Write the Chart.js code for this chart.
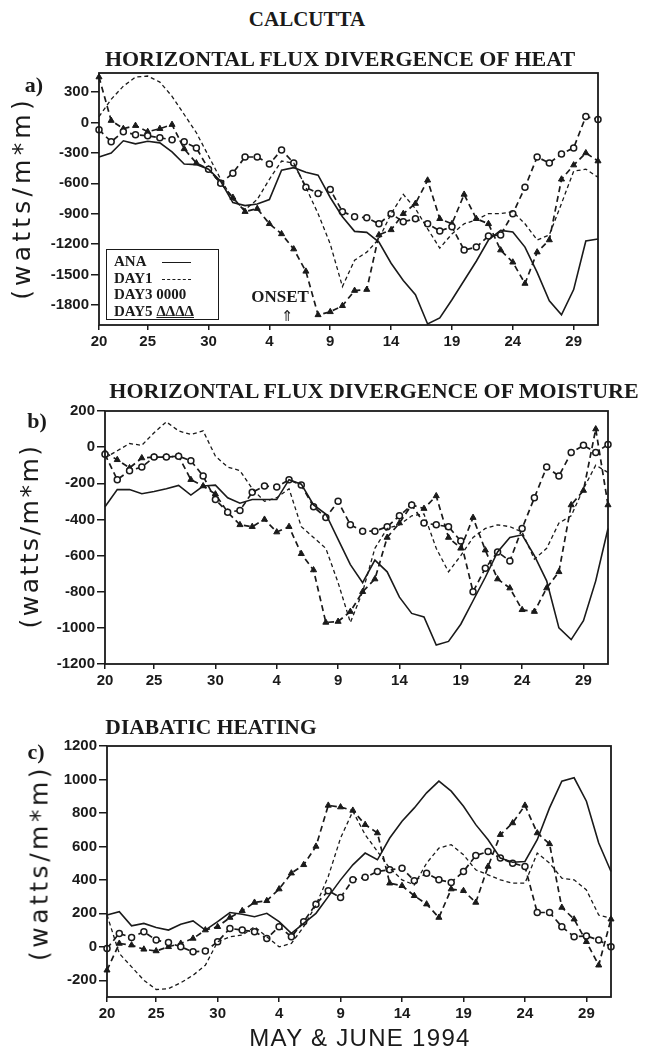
<!DOCTYPE html>
<html>
<head>
<meta charset="utf-8">
<script src="https://cdn.jsdelivr.net/npm/chart.js@4.4.1/dist/chart.umd.min.js"></script>
<style>
  html, body { margin: 0; padding: 0; background: #fff; }
  #page { position: relative; width: 650px; height: 1053px; overflow: hidden; color: #1a1a1a; }
  canvas { position: absolute; left: 0; }
  .t { position: absolute; white-space: nowrap; transform: translate(-50%, -50%); z-index: 2; }
  .serif { font-family: "Liberation Serif", "Times New Roman", serif; font-weight: bold; }
  .sans { font-family: "Liberation Sans", Arial, sans-serif; }
  .ytitle { font-family: "DejaVu Sans", sans-serif; font-size: 25px; }
  #legend { position: absolute; left: 106px; top: 249px; width: 113px; height: 71px; box-sizing: border-box;
            border: 1.5px solid #1a1a1a; z-index: 2; font-family: "Liberation Serif", serif; font-weight: bold; font-size: 15px; }
  #legend span { position: absolute; white-space: nowrap; line-height: 1; }
  .smp { height: 0; width: 29px; }
</style>
</head>
<body>
<div id="page">
  <div class="t serif" style="left:307px; top:19px; font-size:21px;">CALCUTTA</div>

  <!-- panel a -->
  <div class="t serif" style="left:340px; top:59px; font-size:22px;">HORIZONTAL FLUX DIVERGENCE OF HEAT</div>
  <div class="t serif" style="left:34px; top:85px; font-size:22px;">a)</div>
  <div class="t ytitle" style="left:21px; top:198px; letter-spacing:4.2px; transform:translate(-50%,-50%) rotate(-90deg);">(watts/m*m)</div>
  <canvas id="chartA" width="650" height="310" style="top:60px"></canvas>
  <div id="legend">
    <span style="left:7px; top:4px;">ANA</span>
    <span class="smp" style="left:55px; top:12px; border-top:1.5px solid #1a1a1a;"></span>
    <span style="left:7px; top:21px;">DAY1</span>
    <span class="smp" style="left:55px; top:29px; border-top:1.5px dashed #1a1a1a;"></span>
    <span style="left:7px; top:37px;">DAY3 0000</span>
    <span style="left:7px; top:54px;">DAY5 <u>ΔΔΔΔ</u></span>
  </div>
  <div class="t serif" style="left:280px; top:297px; font-size:17px;">ONSET</div>
  <div class="t sans" style="left:287px; top:316px; font-size:15px; font-family:'DejaVu Sans',sans-serif;">⇑</div>

  <!-- panel b -->
  <div class="t serif" style="left:374px; top:391px; font-size:22px;">HORIZONTAL FLUX DIVERGENCE OF MOISTURE</div>
  <div class="t serif" style="left:37px; top:421px; font-size:22px;">b)</div>
  <div class="t ytitle" style="left:29px; top:536px; letter-spacing:2.5px; transform:translate(-50%,-50%) rotate(-90deg);">(watts/m*m)</div>
  <canvas id="chartB" width="650" height="300" style="top:400px"></canvas>

  <!-- panel c -->
  <div class="t serif" style="left:211px; top:727px; font-size:21.5px;">DIABATIC HEATING</div>
  <div class="t serif" style="left:36px; top:752px; font-size:22px;">c)</div>
  <div class="t ytitle" style="left:39px; top:863px; letter-spacing:3.5px; transform:translate(-50%,-50%) rotate(-90deg);">(watts/m*m)</div>
  <canvas id="chartC" width="650" height="300" style="top:735px"></canvas>
  <div class="t sans" style="left:360px; top:1038px; font-size:24px; letter-spacing:1.3px;">MAY &amp; JUNE 1994</div>
</div>

<script>
// ===== Calcutta budget terms, May 21 - July 1 1994 =====

// day index along the x axis (1 = May 21)
const days = [1, 2, 3, 4, 5, 6, 7, 8, 9, 10, 11, 12, 13, 14, 15, 16, 17, 18, 19, 20, 21,
              22, 23, 24, 25, 26, 27, 28, 29, 30, 31, 32, 33, 34, 35, 36, 37, 38, 39, 40, 41, 42];

// x tick positions and their labels
const tickDays = [1, 5, 10, 15, 20, 25, 30, 35, 40];
const tickNames = ['20', '25', '30', '4', '9', '14', '19', '24', '29'];

// y ticks per panel
const heatTicks = [300, 0, -300, -600, -900, -1200, -1500, -1800];
const moistTicks = [200, 0, -200, -400, -600, -800, -1000, -1200];
const diabTicks = [1200, 1000, 800, 600, 400, 200, 0, -200];

// a) horizontal flux divergence of heat
const heatAna = [-340, -300, -180, -210, -185, -200, -290, -410, -415, -460, -580, -790, -820, -805, -760,
  -470, -445, -490, -520, -740, -930, -1075, -1085, -1180, -1390, -1560, -1700, -1990, -1930, -1750,
  -1560, -1370, -1160, -1065, -1080, -1230, -1480, -1760, -1900, -1650, -1170, -1150];
const heatDay1 = [60, 230, 360, 450, 460, 400, 260, 80, -100, -330, -560, -760, -860, -760, -560,
  -380, -400, -640, -900, -1200, -1620, -1360, -1280, -1150, -900, -710, -850, -1050, -1240, -1100,
  -1000, -960, -900, -900, -880, -1000, -1160, -1110, -800, -480, -460, -540];
const heatDay3 = [-70, -190, -90, -120, -130, -150, -170, -190, -250, -460, -600, -500, -340, -340, -410,
  -270, -400, -640, -700, -660, -880, -930, -940, -1000, -900, -980, -950, -1000, -1070, -1030,
  -1260, -1230, -1120, -1110, -900, -640, -340, -400, -310, -250, 60, 30];
const heatDay5 = [450, 20, -60, -30, -90, -60, -20, -260, -400, -460, -600, -740, -880, -850, -1000,
  -1100, -1250, -1470, -1900, -1870, -1810, -1660, -1650, -1110, -1060, -900, -800, -570, -950, -1000,
  -710, -950, -1000, -1260, -1380, -1590, -1280, -1160, -560, -420, -300, -380];

// b) horizontal flux divergence of moisture
const moistAna = [-330, -235, -235, -258, -245, -230, -212, -265, -215, -210, -280, -310, -290, -290, -290,
  -180, -205, -320, -370, -510, -650, -750, -625, -690, -830, -920, -940, -1095, -1075, -980,
  -850, -720, -580, -500, -485, -600, -740, -1000, -1065, -960, -740, -450];
const moistDay1 = [-60, -20, 20, 10, 80, 140, 90, 70, 90, -50, -110, -130, -230, -300, -280,
  -230, -440, -500, -560, -750, -970, -800, -560, -450, -430, -380, -370, -560, -690, -600,
  -500, -450, -430, -440, -470, -620, -560, -420, -380, -230, -100, -140];
const moistDay3 = [-40, -180, -130, -110, -55, -55, -50, -75, -160, -290, -360, -350, -250, -215, -220,
  -180, -210, -330, -390, -300, -430, -465, -465, -440, -380, -320, -420, -430, -440, -520,
  -800, -670, -580, -630, -450, -280, -110, -160, -30, 10, -30, 15];
const moistDay5 = [-30, -70, -115, -60, -55, -55, -50, -180, -215, -260, -360, -430, -440, -400, -470,
  -440, -590, -680, -970, -965, -910, -800, -730, -500, -420, -320, -340, -270, -500, -560,
  -390, -570, -730, -780, -900, -910, -780, -690, -320, -240, 100, -320];

// c) diabatic heating
const diabAna = [190, 210, 125, 140, 115, 100, 135, 155, 100, 150, 205, 195, 180, 200, 150,
  80, 140, 200, 300, 400, 490, 560, 520, 650, 750, 830, 920, 990, 930, 840,
  730, 640, 530, 505, 510, 640, 830, 990, 1010, 870, 620, 450];
const diabDay1 = [190, -40, -120, -200, -255, -250, -215, -170, -110, 30, 60, 70, 120, 60, 0,
  20, 120, 250, 420, 650, 810, 670, 570, 470, 400, 370, 500, 590, 610, 550,
  460, 430, 400, 380, 380, 560, 500, 410, 400, 340, 190, 170];
const diabDay3 = [-10, 80, 55, 90, 40, 25, 0, -30, -25, 30, 110, 100, 90, 50, 120,
  60, 150, 255, 335, 295, 400, 415, 450, 460, 470, 395, 440, 400, 385, 450,
  545, 570, 530, 500, 480, 205, 205, 120, 60, 65, 40, 0];
const diabDay5 = [-140, 20, 10, -15, -25, 0, 20, 50, 100, 120, 175, 215, 265, 275, 345,
  440, 490, 600, 845, 835, 815, 730, 680, 380, 365, 305, 255, 175, 345, 335,
  265, 480, 670, 740, 845, 680, 615, 235, 165, 30, -110, 165];

const ink = '#1a1a1a';
const tickFont = { family: 'Liberation Sans', size: 15, weight: 'bold' };

function pts(arr) {
  return arr.map((v, i) => ({ x: days[i], y: v }));
}

function seriesSet(ana, d1, d3, d5) {
  return [
    { data: pts(ana), borderColor: ink, borderWidth: 1.6, pointRadius: 0 },
    { data: pts(d1), borderColor: ink, borderWidth: 1.3, borderDash: [4, 3], pointRadius: 0 },
    { data: pts(d3), borderColor: ink, borderWidth: 1.7, borderDash: [6, 4],
      pointStyle: 'circle', pointRadius: 3, pointBackgroundColor: '#fff',
      pointBorderColor: ink, pointBorderWidth: 1.5 },
    { data: pts(d5), borderColor: ink, borderWidth: 1.7, borderDash: [6, 4],
      pointStyle: 'triangle', pointRadius: 3.5, pointBackgroundColor: ink,
      pointBorderColor: ink, pointBorderWidth: 1 }
  ];
}

// box round the plot area
const framePlugin = {
  id: 'frame',
  afterDraw(chart) {
    const { ctx, chartArea: a } = chart;
    ctx.save();
    ctx.strokeStyle = ink;
    ctx.lineWidth = 1.8;
    ctx.strokeRect(a.left, a.top, a.right - a.left, a.bottom - a.top);
    ctx.restore();
  }
};

function makeChart(id, datasets, yMin, yMax, yTicks, box) {
  const ctx = document.getElementById(id).getContext('2d');
  return new Chart(ctx, {
    type: 'line',
    data: { datasets: datasets.map(d => Object.assign({ fill: false, tension: 0, clip: 8 }, d)) },
    options: {
      responsive: false,
      animation: false,
      events: [],
      layout: { padding: { top: box.top, right: box.right, bottom: 0, left: 0 } },
      plugins: { legend: { display: false }, tooltip: { enabled: false } },
      scales: {
        x: {
          type: 'linear', min: 1, max: 42,
          afterBuildTicks: s => { s.ticks = tickDays.map(v => ({ value: v })); },
          afterFit: s => { s.height = box.xh; },
          ticks: {
            callback: v => tickNames[tickDays.indexOf(v)],
            font: tickFont, color: ink, padding: 3, maxRotation: 0, autoSkip: false
          },
          grid: { drawOnChartArea: false, drawTicks: true, tickLength: 5, color: ink, lineWidth: 1.5 },
          border: { display: false }
        },
        y: {
          min: yMin, max: yMax,
          afterBuildTicks: s => { s.ticks = yTicks.map(v => ({ value: v })); },
          afterFit: s => { s.width = box.yw; },
          ticks: { callback: v => String(v), font: tickFont, color: ink, padding: 2, autoSkip: false },
          grid: { drawOnChartArea: false, drawTicks: true, tickLength: 8, color: ink, lineWidth: 1.5 },
          border: { display: false }
        }
      }
    },
    plugins: [framePlugin]
  });
}

makeChart('chartA', seriesSet(heatAna, heatDay1, heatDay3, heatDay5), -2000, 490, heatTicks,
  { top: 13, right: 52, xh: 45, yw: 99 });
makeChart('chartB', seriesSet(moistAna, moistDay1, moistDay3, moistDay5), -1200, 200, moistTicks,
  { top: 7.5, right: 42, xh: 36, yw: 105 });
makeChart('chartC', seriesSet(diabAna, diabDay1, diabDay3, diabDay5), -300, 1200, diabTicks,
  { top: 8, right: 39, xh: 38, yw: 107 });
</script>
</body>
</html>
